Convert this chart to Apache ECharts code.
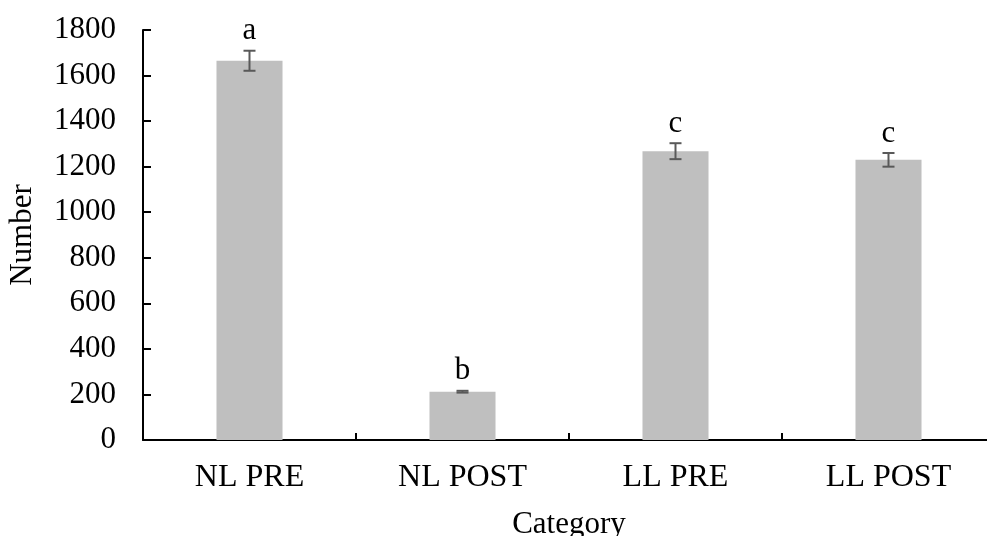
<!DOCTYPE html>
<html>
<head>
<meta charset="utf-8">
<script src="https://cdn.jsdelivr.net/npm/echarts@6/dist/echarts.min.js"></script>
<style>html,body{margin:0;padding:0;background:#fff}#c{width:987px;height:536px}</style>
</head>
<body>
<div id="c"></div>
<script>
const categories = ['NL PRE', 'NL POST', 'LL PRE', 'LL POST'];
const values = [1665, 212, 1268, 1230];
const errors = [44, 4, 35, 30];
const letters = ['a', 'b', 'c', 'c'];
const yTicks = { min: 0, max: 1800, interval: 200 };

const font = 'Liberation Serif, Times New Roman, serif';
const chart = echarts.init(document.getElementById('c'));
const errData = categories.map((c, i) => [i, values[i], errors[i], letters[i]]);

chart.setOption({
  animation: false,
  grid: { left: 143, top: 30, height: 410, width: 852, containLabel: false, outerBoundsMode: 'none' },
  xAxis: {
    type: 'category',
    data: categories,
    name: 'Category',
    nameLocation: 'middle',
    nameGap: 69,
    nameTextStyle: { fontFamily: font, fontSize: 31, color: '#000' },
    axisLine: { lineStyle: { color: '#000', width: 2 } },
    axisTick: { show: true, inside: true, length: 7, alignWithLabel: false, lineStyle: { color: '#000', width: 2 } },
    axisLabel: { fontFamily: font, fontSize: 32, color: '#000', margin: 22 }
  },
  yAxis: {
    type: 'value',
    min: yTicks.min, max: yTicks.max, interval: yTicks.interval,
    name: 'Number',
    nameLocation: 'middle',
    nameGap: 105,
    nameTextStyle: { fontFamily: font, fontSize: 31, color: '#000' },
    splitLine: { show: false },
    axisLine: { show: true, lineStyle: { color: '#000', width: 2 } },
    axisTick: { show: true, inside: true, length: 8, lineStyle: { color: '#000', width: 2 } },
    axisLabel: { fontFamily: font, fontSize: 31, color: '#000', margin: 27, formatter: v => String(v) }
  },
  series: [
    {
      type: 'bar',
      data: values,
      barWidth: '31%',
      itemStyle: { color: '#bfbfbf' }
    },
    {
      type: 'custom',
      data: errData,
      z: 10,
      renderItem: function (params, api) {
        const x = api.value(0), v = api.value(1), e = api.value(2);
        const hi = api.coord([x, v + e]);
        const lo = api.coord([x, v - e]);
        const half = 6;
        const st = { stroke: '#595959', lineWidth: 2 };
        return {
          type: 'group',
          children: [
            { type: 'line', shape: { x1: hi[0], y1: hi[1], x2: lo[0], y2: lo[1] }, style: st },
            { type: 'line', shape: { x1: hi[0] - half, y1: hi[1], x2: hi[0] + half, y2: hi[1] }, style: st },
            { type: 'line', shape: { x1: lo[0] - half, y1: lo[1], x2: lo[0] + half, y2: lo[1] }, style: st },
            { type: 'text', style: { text: letters[params.dataIndex], x: hi[0], y: hi[1] - 4, textAlign: 'center', textVerticalAlign: 'bottom', fontFamily: font, fontSize: 31, fill: '#000' } }
          ]
        };
      }
    }
  ]
});
</script>
</body>
</html>
